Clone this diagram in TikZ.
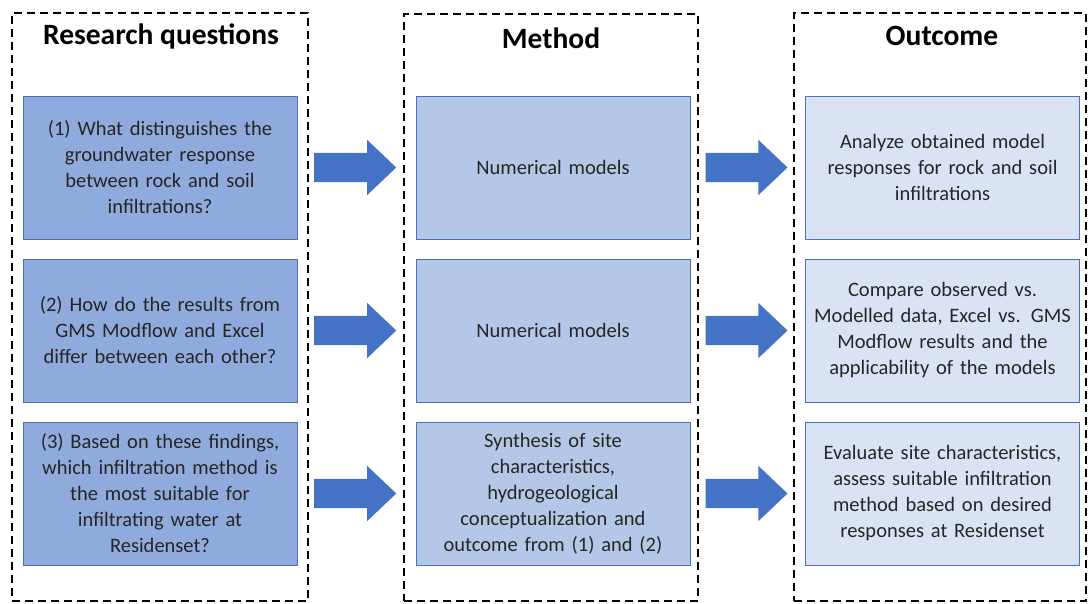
\documentclass[tikz,border=0pt]{standalone}
\usepackage{fontspec}
\setmainfont{Carlito}
\usepackage{xcolor}
\usepackage{tikz}
\usetikzlibrary{positioning, shapes.arrows, calc}

\definecolor{qfill}{HTML}{8FAADC}
\definecolor{mfill}{HTML}{B4C7E7}
\definecolor{ofill}{HTML}{DAE3F3}
\definecolor{boxline}{HTML}{4A72B8}
\definecolor{arrowblue}{HTML}{4472C4}

\begin{document}
\begin{tikzpicture}[
  x=1pt, y=-1pt,
  column/.style={draw, line width=2.4pt, dash pattern=on 8pt off 5pt, inner sep=0pt},
  title/.style={font=\fontsize{29.5}{34}\selectfont\bfseries},
  box/.style={draw=boxline, line width=0.9pt, minimum width=274pt, minimum height=143pt,
    text width=266pt, align=center, inner sep=0pt, text=black!85,
    font=\fontsize{20.5}{26}\selectfont},
  blockarrow/.style={single arrow, fill=arrowblue, draw=none, inner xsep=0pt,
    inner ysep=14.5pt, minimum height=82pt, single arrow head extend=13pt,
    single arrow tip angle=87, xshift=-9pt}
]
  \useasboundingbox (0,0) rectangle (1088,603);

  % dashed columns
  \node[column, minimum width=296pt, minimum height=588pt] (colq) at (160,307) {};
  \node[column, minimum width=294pt, minimum height=587pt] (colm) at (551,307.5) {};
  \node[column, minimum width=292pt, minimum height=588pt] (colo) at (940,307) {};

  \node[title] (tq) at (161,36) {Research questions};
  \node[title] (tm) at (551,38) {Method};
  \node[title] (to) at (942,36) {Outcome};

  % research questions
  \node[box, fill=qfill] (q1) at (160,167.5) {(1) What distinguishes the\\groundwater response\\between rock and soil\\infiltrations?};
  \node[box, fill=qfill] (q2) at (160,330.5) {(2) How do the results from\\GMS Modflow and Excel\\differ between each other?};
  \node[box, fill=qfill] (q3) at (160,493.5) {(3) Based on these findings,\\which infiltration method is\\the most suitable for\\infiltrating water at\\Residenset?};

  % method
  \node[box, fill=mfill] (m1) at (553,167.5) {Numerical models};
  \node[box, fill=mfill] (m2) at (553,330.5) {Numerical models};
  \node[box, fill=mfill] (m3) at (553,493.5) {Synthesis of site\\characteristics,\\hydrogeological\\conceptualization and\\outcome from (1) and (2)};

  % outcome
  \node[box, fill=ofill] (o1) at (942.5,167.5) {Analyze obtained model\\responses for rock and soil\\infiltrations};
  \node[box, fill=ofill] (o2) at (942.5,330.5) {Compare observed vs.\\Modelled data, Excel vs. GMS\\Modflow results and the\\applicability of the models};
  \node[box, fill=ofill] (o3) at (942.5,493.5) {Evaluate site characteristics,\\assess suitable infiltration\\method based on desired\\responses at Residenset};

  % arrows
  \node[blockarrow] (a1) at ($(q1.east)!0.5!(m1.west)$) {};
  \node[blockarrow] (a2) at ($(q2.east)!0.5!(m2.west)$) {};
  \node[blockarrow] (a3) at ($(q3.east)!0.5!(m3.west)$) {};
  \node[blockarrow] (a4) at ($(m1.east)!0.5!(o1.west)$) {};
  \node[blockarrow] (a5) at ($(m2.east)!0.5!(o2.west)$) {};
  \node[blockarrow] (a6) at ($(m3.east)!0.5!(o3.west)$) {};
\end{tikzpicture}
\end{document}
